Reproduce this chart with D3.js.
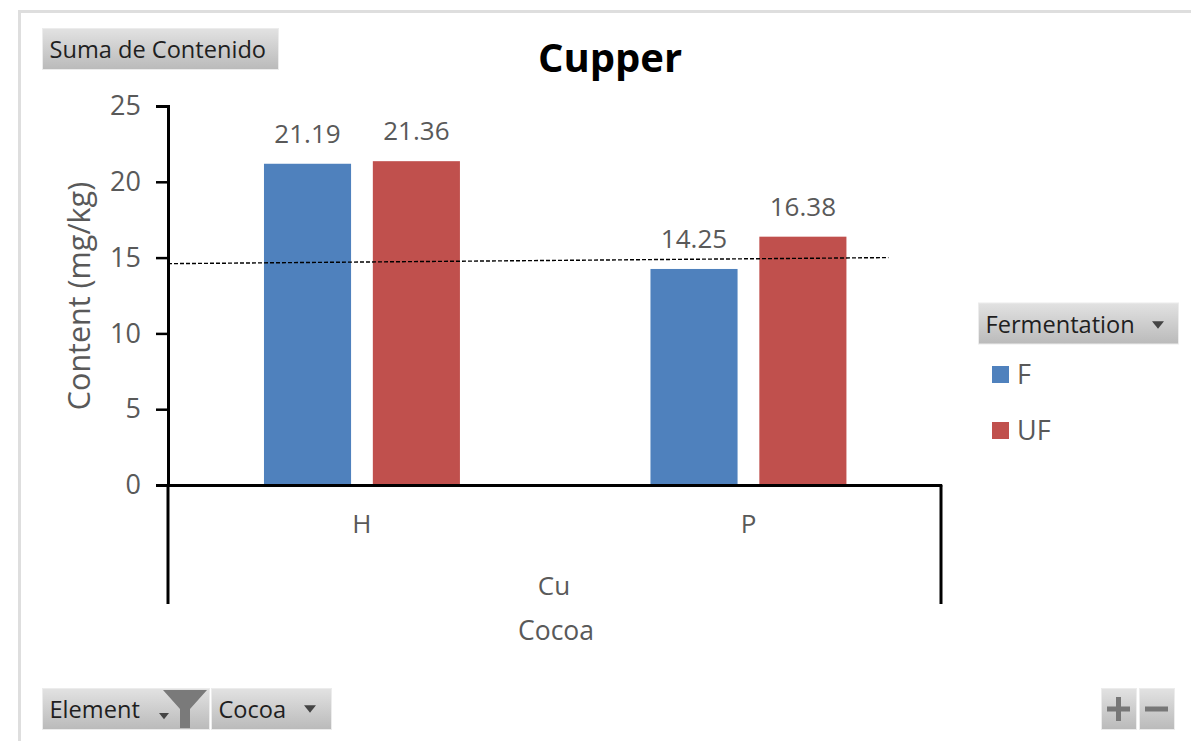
<!DOCTYPE html>
<html>
<head>
<meta charset="utf-8">
<script src="https://cdn.jsdelivr.net/npm/d3@7"></script>
<style>
  html, body { margin: 0; padding: 0; background: #fff; }
  svg { display: block; }
  text { font-family: "Open Sans", "Noto Sans", sans-serif; }
</style>
</head>
<body>
<svg id="chart" width="1191" height="741"></svg>
<script>
// Cocoa copper content by type and fermentation state
const cocoaTypes = ["H", "P"];
const fermentation = ["F", "UF"];
const fermentedValues = [21.19, 14.25];
const unfermentedValues = [21.36, 16.38];
const referenceLine = [14.6, 15.0];
const yTicks = [0, 5, 10, 15, 20, 25];
const seriesColors = ["#4f81bd", "#c0504d"];

const svg = d3.select("#chart");
const grey = "#595959";

const plotLeft = 168, plotRight = 941, plotTop = 106, plotBase = 485, stemBottom = 604;

const y = d3.scaleLinear().domain([0, 25]).range([plotBase, plotTop]);
const x0 = d3.scaleBand().domain(cocoaTypes).range([plotLeft + 0.7, plotRight + 0.7])
  .paddingInner(0.493).paddingOuter(0.2465);
const x1 = d3.scaleBand().domain(fermentation).range([0, x0.bandwidth()])
  .paddingInner(0.2);
const color = d3.scaleOrdinal().domain(fermentation).range(seriesColors);

// Shared gradient for the field buttons
const grad = svg.append("defs").append("linearGradient")
  .attr("id", "btn").attr("x1", 0).attr("y1", 0).attr("x2", 0).attr("y2", 1);
grad.append("stop").attr("offset", "0%").attr("stop-color", "#e2e2e2");
grad.append("stop").attr("offset", "100%").attr("stop-color", "#bababa");

// Outer frame, open on the right and bottom
svg.append("path")
  .attr("d", "M19.5,741V11.5H1191")
  .attr("fill", "none").attr("stroke", "#dedede").attr("stroke-width", 3);

// Bars
const rows = fermentation.map((f, s) => ({
  key: f,
  values: s === 0 ? fermentedValues : unfermentedValues
}));
const cells = rows.flatMap(r => r.values.map((v, i) => ({ key: r.key, cat: cocoaTypes[i], v })));

svg.append("g").selectAll("rect").data(cells).join("rect")
  .attr("x", d => x0(d.cat) + x1(d.key))
  .attr("y", d => y(d.v))
  .attr("width", x1.bandwidth())
  .attr("height", d => y(0) - y(d.v))
  .attr("fill", d => color(d.key));

// Value labels
svg.append("g").selectAll("text").data(cells).join("text")
  .attr("x", d => x0(d.cat) + x1(d.key) + x1.bandwidth() / 2)
  .attr("y", d => y(d.v) - 21)
  .attr("text-anchor", "middle")
  .attr("font-size", 26)
  .attr("fill", grey)
  .text(d => d.v.toFixed(2));

// Vertical axis
const yAxis = svg.append("g").attr("transform", `translate(${plotLeft},0)`)
  .call(d3.axisLeft(y).tickValues(yTicks).tickSize(12).tickPadding(15).tickFormat(d3.format("d")));
yAxis.select(".domain").attr("stroke", "#000").attr("stroke-width", 3);
yAxis.selectAll(".tick line").attr("stroke", "#000").attr("stroke-width", 2.5);
yAxis.selectAll(".tick text").attr("font-size", 27).attr("fill", grey);

// Horizontal axis and the long stems closing the category area
const xAxis = svg.append("g").attr("transform", `translate(0,${plotBase})`)
  .call(d3.axisBottom(x0).tickSize(0).tickPadding(30));
xAxis.select(".domain").attr("stroke", "#000").attr("stroke-width", 3);
xAxis.selectAll(".tick text").attr("font-size", 26).attr("fill", grey);

svg.append("g").selectAll("line").data([plotLeft, plotRight]).join("line")
  .attr("x1", d => d).attr("x2", d => d)
  .attr("y1", plotBase).attr("y2", stemBottom)
  .attr("stroke", "#000").attr("stroke-width", 3);

// Reference line drawn across the plot
const refEnd = x0("P") + x0.bandwidth() + 42;
svg.append("line")
  .attr("x1", plotLeft)
  .attr("x2", refEnd)
  .attr("y1", y(referenceLine[0]))
  .attr("y2", y(referenceLine[1]))
  .attr("stroke", "#000").attr("stroke-width", 1.4).attr("stroke-dasharray", "4,2");

// Titles
svg.append("text").attr("x", 610).attr("y", 72).attr("text-anchor", "middle")
  .attr("font-size", 40).attr("font-weight", 700).attr("fill", "#000").text("Cupper");
svg.append("text").attr("x", 554).attr("y", 595).attr("text-anchor", "middle")
  .attr("font-size", 26).attr("fill", grey).text("Cu");
svg.append("text").attr("x", 556).attr("y", 640).attr("text-anchor", "middle")
  .attr("font-size", 26.5).attr("fill", grey).text("Cocoa");
svg.append("text")
  .attr("transform", "translate(90,296) rotate(-90)")
  .attr("text-anchor", "middle")
  .attr("font-size", 30.5).attr("fill", grey).text("Content (mg/kg)");

// Field buttons
function button(bx, by, w, h, label) {
  const g = svg.append("g");
  g.append("rect").attr("x", bx).attr("y", by).attr("width", w).attr("height", h)
    .attr("fill", "url(#btn)").attr("stroke", "#ececec").attr("stroke-width", 1);
  if (label) {
    g.append("text").attr("x", bx + 7).attr("y", by + h / 2 + 9)
      .attr("font-size", 23.6).attr("fill", "#1f1f1f").text(label);
  }
}
function caret(cx, cy, half) {
  svg.append("path")
    .attr("d", d3.line()([[cx - half, cy - half / 1.6], [cx + half, cy - half / 1.6], [cx, cy + half / 1.6]]) + "Z")
    .attr("fill", "#444");
}

button(42.5, 28.5, 236, 41, "Suma de Contenido");
button(42.5, 688.5, 167, 41, "Element");
button(211.5, 688.5, 120, 41, "Cocoa");
button(978.5, 303, 200, 41, "Fermentation");
button(1101.5, 688.5, 35, 41);
button(1139.5, 688.5, 35, 41);

caret(164, 716, 5);
caret(310, 709, 6);
caret(1158, 325, 6);

// Filter funnel on the Element button
svg.append("path")
  .attr("d", "M163,690H207L190,709V728H180V709Z")
  .attr("fill", "#7a7a7a");

// Zoom glyphs
svg.append("path").attr("d", "M1107,709H1130M1118.5,697V721")
  .attr("stroke", "#777").attr("stroke-width", 5).attr("fill", "none");
svg.append("path").attr("d", "M1145,709H1168")
  .attr("stroke", "#777").attr("stroke-width", 5).attr("fill", "none");

// Legend
const legend = svg.append("g").selectAll("g").data(fermentation).join("g")
  .attr("transform", (d, i) => `translate(992,${366 + i * 56})`);
legend.append("rect").attr("width", 17).attr("height", 17).attr("fill", d => color(d));
legend.append("text").attr("x", 25).attr("y", 18).attr("font-size", 27).attr("fill", grey).text(d => d);
</script>
</body>
</html>
